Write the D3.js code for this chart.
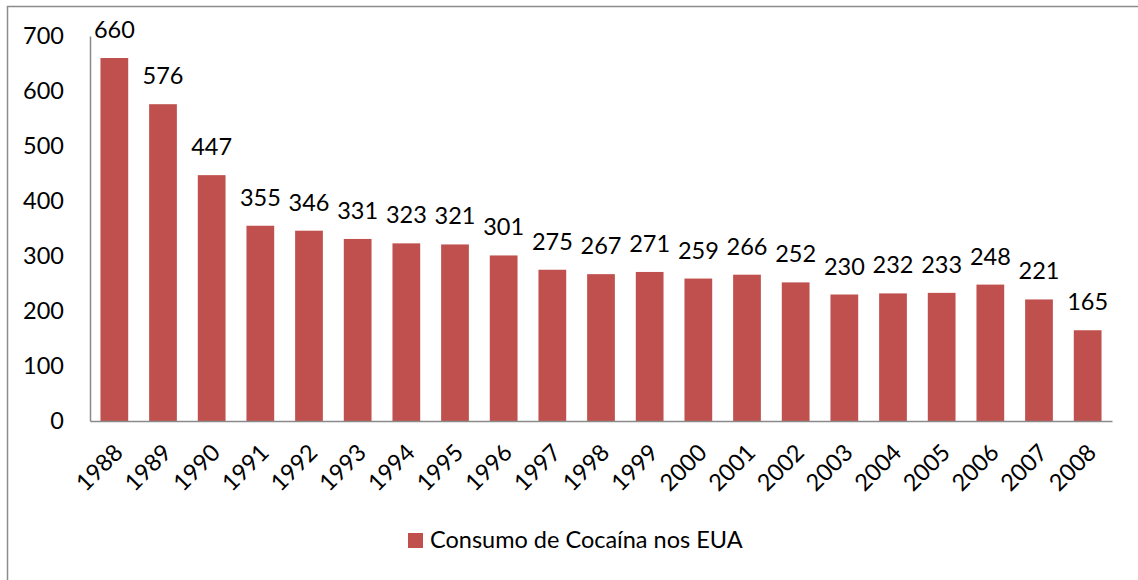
<!DOCTYPE html>
<html>
<head>
<meta charset="utf-8">
<script src="https://cdn.jsdelivr.net/npm/d3@7/dist/d3.min.js"></script>
<style>
  html, body { margin: 0; padding: 0; background: #fff; }
  svg { display: block; }
  text { font-family: Lato, "Open Sans", "Noto Sans", sans-serif; fill: #000; }
</style>
</head>
<body>
<svg id="chart" width="1138" height="580"></svg>
<script>
// Annual cocaine consumption in the USA (metric tons)
const years = ["1988","1989","1990","1991","1992","1993","1994","1995","1996","1997","1998",
               "1999","2000","2001","2002","2003","2004","2005","2006","2007","2008"];
const consumption = [660, 576, 447, 355, 346, 331, 323, 321, 301, 275, 267,
                     271, 259, 266, 252, 230, 232, 233, 248, 221, 165];
const yTicks = [0, 100, 200, 300, 400, 500, 600, 700];
const seriesName = "Consumo de Cocaína nos EUA";

const barColor = "#C0504D";
const axisColor = "#8a8a8a";
const fontSize = 23.5;
const fontFamily = "Lato, 'Open Sans', sans-serif";

const svg = d3.select("#chart");

// outer chart frame
svg.append("rect")
  .attr("x", 7.5).attr("y", 6.5)
  .attr("width", 1140).attr("height", 580)
  .attr("fill", "none").attr("stroke", "#8c8c8c").attr("stroke-width", 1.5);

const plot = { left: 90, right: 1112, top: 36, bottom: 421 };

const x = d3.scaleBand()
  .domain(years)
  .range([plot.left, plot.right])
  .paddingInner(0.43)
  .paddingOuter(0.215);

const y = d3.scaleLinear()
  .domain([0, 700])
  .range([plot.bottom, plot.top]);

// bars
svg.append("g")
  .selectAll("rect")
  .data(years)
  .join("rect")
  .attr("x", d => x(d))
  .attr("y", (d, i) => y(consumption[i]))
  .attr("width", x.bandwidth())
  .attr("height", (d, i) => y(0) - y(consumption[i]))
  .attr("fill", barColor);

// value labels
svg.append("g")
  .selectAll("text")
  .data(years)
  .join("text")
  .attr("x", d => x(d) + x.bandwidth() / 2)
  .attr("y", (d, i) => y(consumption[i]) - 20)
  .attr("text-anchor", "middle")
  .attr("font-size", fontSize)
  .text((d, i) => consumption[i]);

// y axis
const yAxis = svg.append("g")
  .attr("transform", `translate(${plot.left},0)`)
  .call(d3.axisLeft(y).tickValues(yTicks).tickSize(0).tickPadding(26).tickFormat(d3.format("d")));
yAxis.select(".domain").attr("stroke", axisColor).attr("stroke-width", 1.5);
yAxis.selectAll("text").attr("font-size", fontSize).attr("font-family", fontFamily).attr("fill", "#000");

// x axis
const xAxis = svg.append("g")
  .attr("transform", `translate(0,${plot.bottom})`)
  .call(d3.axisBottom(x).tickSize(0).tickPadding(0));
xAxis.select(".domain").attr("stroke", axisColor).attr("stroke-width", 1.5);
xAxis.selectAll("text")
  .attr("font-size", fontSize)
  .attr("font-family", fontFamily)
  .attr("fill", "#000")
  .attr("text-anchor", "end")
  .attr("dy", null)
  .attr("transform", "translate(10,33) rotate(-45)");

// legend
const legend = svg.append("g").attr("transform", "translate(408,533)");
legend.append("rect").attr("width", 15).attr("height", 15).attr("fill", barColor);
legend.append("text")
  .attr("x", 22).attr("y", 15)
  .attr("font-size", fontSize)
  .text(seriesName);
</script>
</body>
</html>
